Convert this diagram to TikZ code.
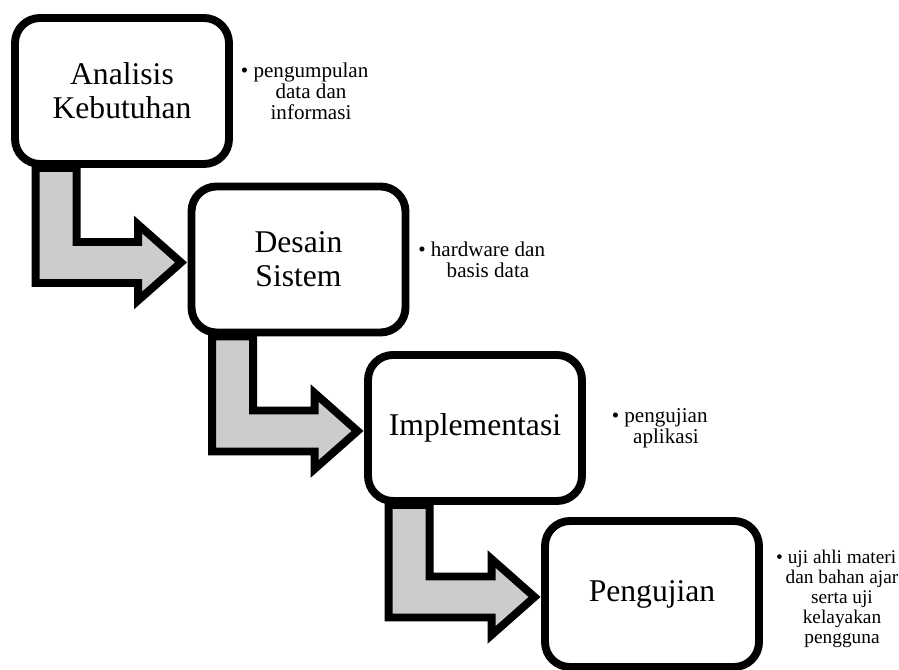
\documentclass[tikz,border=0pt]{standalone}
\usepackage{fontspec}
\setmainfont{Liberation Serif}
\usepackage{tikz}
\usetikzlibrary{calc,shadows}
\definecolor{arrowgray}{HTML}{CCCCCC}

\tikzset{
	stage/.style={draw, line width=4.5pt, rounded corners=0.5cm, fill=white,
		minimum width=4.28cm, minimum height=2.92cm, align=center,
		font=\fontsize{18}{19.5}\selectfont,
		drop shadow={shadow xshift=0.05cm, shadow yshift=-0.05cm, opacity=0.25}},
	note/.style={align=center, font=\fontsize{12}{12}\selectfont},
	bentarrow/.style={draw, line width=4.5pt, fill=arrowgray, line join=miter, miter limit=4}
}

\begin{document}
\begin{tikzpicture}
		\useasboundingbox (0,0) rectangle (17.98,13.4);
		\node[stage] (S1) at (2.44,11.58) {Analisis\\Kebutuhan};
		\node[stage] (S2) at (5.97,8.21) {Desain\\Sistem};
		\node[stage] (S3) at (9.50,4.84) {Implementasi};
		\node[stage] (S4) at (13.04,1.52) {Pengujian};
%
		\node[note] (N1) at (6.22,11.58) {\llap{\textbullet\ }pengumpulan\\data dan\\informasi};
		\node[note] (N2) at (9.76,8.21) {\llap{\textbullet\ }hardware dan\\basis data};
		\node[note] (N3) at (13.32,4.84) {\llap{\textbullet\ }pengujian\\aplikasi};
		\node[note, font=\fontsize{11}{11.4}\selectfont] (N4) at (16.84,1.42)
			{\llap{\textbullet\ }uji ahli materi\\dan bahan ajar\\serta uji\\kelayakan\\pengguna};
%
		\draw[bentarrow] ($(S1.south west)+(0.49,0)$) -- ($(S1.south west |- S2.west)+(0.49,-0.47)$)
			-- ($(S2.west)+(-0.99,-0.47)$) -- ($(S2.west)+(-0.99,-0.82)$) -- ($(S2.west)+(-0.13,-0.06)$)
			-- ($(S2.west)+(-0.99,0.70)$) -- ($(S2.west)+(-0.99,0.35)$)
			-- ($(S1.south west |- S2.west)+(1.31,0.35)$) -- ($(S1.south west)+(1.31,0)$) -- cycle;
		\draw[bentarrow] ($(S2.south west)+(0.49,0)$) -- ($(S2.south west |- S3.west)+(0.49,-0.47)$)
			-- ($(S3.west)+(-0.99,-0.47)$) -- ($(S3.west)+(-0.99,-0.82)$) -- ($(S3.west)+(-0.13,-0.06)$)
			-- ($(S3.west)+(-0.99,0.70)$) -- ($(S3.west)+(-0.99,0.35)$)
			-- ($(S2.south west |- S3.west)+(1.31,0.35)$) -- ($(S2.south west)+(1.31,0)$) -- cycle;
		\draw[bentarrow] ($(S3.south west)+(0.49,0)$) -- ($(S3.south west |- S4.west)+(0.49,-0.47)$)
			-- ($(S4.west)+(-0.99,-0.47)$) -- ($(S4.west)+(-0.99,-0.82)$) -- ($(S4.west)+(-0.13,-0.06)$)
			-- ($(S4.west)+(-0.99,0.70)$) -- ($(S4.west)+(-0.99,0.35)$)
			-- ($(S3.south west |- S4.west)+(1.31,0.35)$) -- ($(S3.south west)+(1.31,0)$) -- cycle;
	\end{tikzpicture}
\end{document}
